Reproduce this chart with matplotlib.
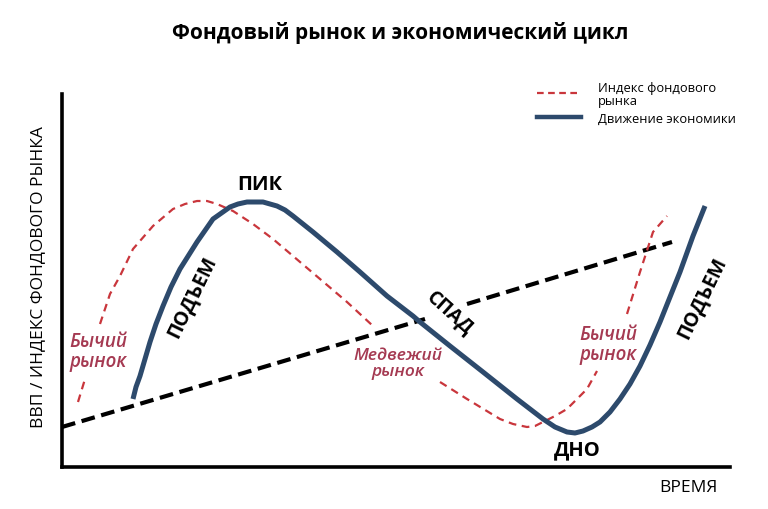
import matplotlib.pyplot as plt
import numpy as np

plt.rcParams['font.family'] = ['Open Sans', 'DejaVu Sans']

# economy curve (time, level)
econ_t = [71, 74, 78, 83, 88, 94, 101, 109, 118, 135, 151, 168, 176, 185, 193, 201,
          208, 215, 223, 231, 251, 275, 298, 325, 351, 358, 388, 421, 455, 481, 493,
          505, 513, 521, 530, 538, 548, 558, 568, 578, 588, 598, 608, 618, 631, 643]
econ_v = [68, 80, 91, 108, 125, 143, 161, 180, 198, 225, 248, 260, 263, 265, 265, 265,
          263, 261, 257, 251, 235, 215, 195, 171, 151, 145, 121, 95, 68, 48, 40,
          35, 34, 36, 40, 45, 55, 68, 83, 101, 122, 145, 170, 195, 231, 261]

# stock index (gaps where the labels sit)
stock_t = [16, 23, np.nan, 38, 48, 58, 71, 91, 111, 123, 135, 145, 155, 171, 191, 211,
           231, 258, 285, 311, np.nan, 378, 405, 438, 451, 465, 473, 481, 493, 505,
           525, 535, np.nan, 565, 578, 591, 605]
stock_v = [65, 88, np.nan, 143, 173, 191, 218, 241, 258, 263, 266, 266, 263, 256, 243, 228,
           211, 188, 165, 141, np.nan, 85, 68, 48, 43, 40, 41, 45, 51, 58,
           78, 96, np.nan, 153, 195, 235, 251]

# long-term trend
trend_t = [0, 363, np.nan, 405, 610]
trend_v = [40, 148, np.nan, 163, 225]

blue = '#2d4a6c'
red = '#c9363c'
maroon = '#a53a52'

fig = plt.figure(figsize=(7.68, 5.10), dpi=100)
ax = fig.add_axes([62 / 768, 42 / 510, 668 / 768, 373 / 510])

ax.plot(trend_t, trend_v, color='black', lw=3, dashes=(3.3, 1.6), zorder=2)
ax.plot(stock_t, stock_v, color=red, lw=1.6, dashes=(3.5, 2.5), zorder=3)
ax.plot(econ_t, econ_v, color=blue, lw=3.6, solid_capstyle='butt',
        solid_joinstyle='round', zorder=4)

ax.set_xlim(0, 668)
ax.set_ylim(0, 373)
ax.set_xticks([])
ax.set_yticks([])
for s in ['top', 'right']:
    ax.spines[s].set_visible(False)
for s in ['left', 'bottom']:
    ax.spines[s].set_linewidth(2.6)
    ax.spines[s].set_color('black')

# phase labels
ax.text(198, 283, 'ПИК', fontsize=14.5, fontweight='bold', ha='center', va='center')
ax.text(130, 171, 'ПОДЪЕМ', fontsize=14, fontweight='bold', rotation=64,
        ha='center', va='center')
ax.text(388, 155, 'СПАД', fontsize=14, fontweight='bold', rotation=-42,
        ha='center', va='center')
ax.text(515, 18, 'ДНО', fontsize=14.5, fontweight='bold', ha='center', va='center')
ax.text(640, 170, 'ПОДЪЕМ', fontsize=14, fontweight='bold', rotation=64,
        ha='center', va='center')

# market labels
ax.text(36, 116, 'Бычий\nрынок', fontsize=13.5, fontstyle='italic', fontweight='semibold',
        color=maroon, ha='center', va='center', linespacing=1.0)
ax.text(336, 104, 'Медвежий\nрынок', fontsize=12.5, fontstyle='italic', fontweight='semibold',
        color=maroon, ha='center', va='center', linespacing=0.95)
ax.text(546, 123, 'Бычий\nрынок', fontsize=13.5, fontstyle='italic', fontweight='semibold',
        color=maroon, ha='center', va='center', linespacing=1.0)

# axis titles
fig.text(38 / 768, 1 - 277 / 510, 'ВВП / ИНДЕКС ФОНДОВОГО РЫНКА', rotation=90,
         fontsize=12.5, ha='center', va='center')
fig.text(688 / 768, 1 - 488 / 510, 'ВРЕМЯ', fontsize=12.5, ha='center', va='center')
fig.text(400 / 768, 1 - 33 / 510, 'Фондовый рынок и экономический цикл', fontsize=15,
         fontweight='bold', ha='center', va='center')

# legend
fig.add_artist(plt.Line2D([537 / 768, 581 / 768], [1 - 94 / 510, 1 - 94 / 510],
                          color=red, lw=1.6, dashes=(3, 2)))
fig.add_artist(plt.Line2D([537 / 768, 581 / 768], [1 - 118 / 510, 1 - 118 / 510],
                          color=blue, lw=3.2))
fig.text(598 / 768, 1 - 95 / 510, 'Индекс фондового\nрынка', fontsize=9.3,
         ha='left', va='center', linespacing=0.95)
fig.text(598 / 768, 1 - 119 / 510, 'Движение экономики', fontsize=9.3,
         ha='left', va='center')

fig.savefig('out.png', dpi=100)
